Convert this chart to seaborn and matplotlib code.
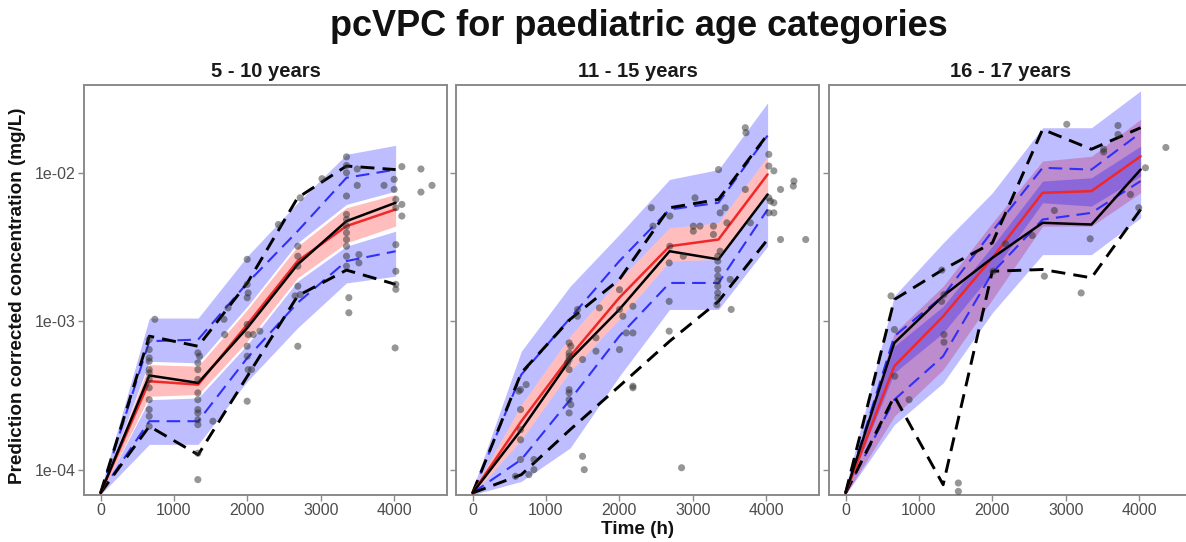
import numpy as np
import pandas as pd
import matplotlib
matplotlib.use("Agg")
import matplotlib.pyplot as plt
import seaborn as sns

# ---------------- data ----------------
TIME_BINS = [0, 665, 1330, 2000, 2685, 3350, 4020]
PANEL_TITLES = ["5 - 10 years", "11 - 15 years", "16 - 17 years"]
Y_TICKS = [1e-4, 1e-3, 1e-2]
Y_TICK_LABELS = ["1e-04", "1e-03", "1e-02"]
X_TICKS = [0, 1000, 2000, 3000, 4000]

# Panel 1: 5 - 10 years
p1_obs_med = [6.96e-5, 4.31e-4, 3.84e-4, 9.02e-4, 2.41e-3, 4.72e-3, 6.28e-3]
p1_sim_med = [6.96e-5, 3.94e-4, 3.74e-4, 9.51e-4, 2.54e-3, 4.37e-3, 5.66e-3]
p1_med_hi = [7.14e-5, 5.10e-4, 4.98e-4, 1.20e-3, 3.20e-3, 5.81e-3, 7.14e-3]
p1_med_lo = [6.78e-5, 3.12e-4, 3.21e-4, 7.33e-4, 1.96e-3, 3.37e-3, 4.37e-3]
p1_up_hi = [7.33e-5, 1.05e-3, 1.05e-3, 2.74e-3, 6.28e-3, 1.33e-2, 1.53e-2]
p1_up_lo = [7.00e-5, 5.37e-4, 5.24e-4, 1.26e-3, 3.37e-3, 6.12e-3, 7.52e-3]
p1_lo_hi = [6.90e-5, 2.96e-4, 3.04e-4, 6.96e-4, 1.86e-3, 3.20e-3, 4.04e-3]
p1_lo_lo = [6.78e-5, 1.48e-4, 1.48e-4, 3.94e-4, 9.02e-4, 1.81e-3, 2.01e-3]
p1_sim_p95 = [6.96e-5, 7.33e-4, 7.52e-4, 1.81e-3, 4.04e-3, 9.25e-3, 1.05e-2]
p1_sim_p05 = [6.96e-5, 2.12e-4, 2.12e-4, 5.66e-4, 1.33e-3, 2.54e-3, 2.96e-3]
p1_obs_p95 = [6.96e-5, 7.93e-4, 6.78e-4, 1.81e-3, 6.78e-3, 1.11e-2, 1.05e-2]
p1_obs_p05 = [6.96e-5, 1.96e-4, 1.26e-4, 4.26e-4, 1.48e-3, 2.21e-3, 1.77e-3]
p1_pts_t = [663, 663, 663, 663, 663, 663, 663, 663, 663, 663, 663, 663, 740,
            1326, 1326, 1326, 1326, 1326, 1326, 1326, 1326, 1326, 1326, 1326, 1326,
            1348, 1531, 1737, 1691, 1682,
            1998, 1998, 1998, 1998, 1998, 1998, 1998, 2011, 2011, 2011, 2080, 2171, 2057,
            2423, 2720, 3017, 2688, 2688, 2688, 2688, 2688, 2651, 2720,
            3351, 3351, 3351, 3351, 3351, 3351, 3351, 3351, 3351, 3351, 3351, 3351,
            3497, 3497, 3520, 3520, 3383, 3383,
            4105, 4105, 4105, 4365, 4365, 4000, 4000, 3862, 4516,
            4023, 4023, 4023, 4023, 4023, 4023, 4013]
p1_pts_c = [7.52e-4, 6.44e-4, 5.66e-4, 5.37e-4, 4.72e-4, 4.49e-4, 4.05e-4, 3.56e-4, 2.96e-4, 2.54e-4, 2.29e-4, 1.96e-4, 1.03e-3,
            6.12e-4, 5.24e-4, 4.72e-4, 4.05e-4, 3.29e-4, 2.96e-4, 2.54e-4, 2.41e-4, 2.17e-4, 2.01e-4, 1.29e-4, 8.57e-5,
            5.81e-4, 2.12e-4, 1.23e-3, 8.13e-4, 1.03e-3,
            2.61e-3, 1.77e-3, 1.44e-3, 9.51e-4, 6.78e-4, 5.81e-4, 2.89e-4, 1.55e-3, 8.13e-4, 4.72e-4, 8.13e-4, 8.57e-4, 4.72e-4,
            4.48e-3, 6.78e-3, 9.12e-3, 3.20e-3, 2.74e-3, 2.35e-3, 1.72e-3, 6.78e-4, 1.48e-3, 1.51e-3,
            1.28e-2, 1.12e-2, 1.00e-2, 6.97e-3, 5.24e-3, 4.84e-3, 4.37e-3, 3.94e-3, 3.55e-3, 3.20e-3, 2.74e-3, 2.35e-3,
            1.06e-2, 8.22e-3, 2.81e-3, 2.47e-3, 1.44e-3, 1.14e-3,
            1.10e-2, 6.12e-3, 5.11e-3, 1.06e-2, 7.41e-3, 9.02e-3, 7.72e-3, 8.22e-3, 8.22e-3,
            6.61e-3, 5.81e-3, 3.28e-3, 2.17e-3, 1.77e-3, 1.64e-3, 6.61e-4]

# Panel 2: 11 - 15 years
p2_obs_med = [6.96e-5, 1.86e-4, 5.52e-4, 1.20e-3, 2.96e-3, 2.61e-3, 7.14e-3]
p2_sim_med = [6.96e-5, 2.12e-4, 5.81e-4, 1.44e-3, 3.20e-3, 3.55e-3, 9.75e-3]
p2_med_hi = [7.14e-5, 2.74e-4, 7.93e-4, 1.91e-3, 4.26e-3, 4.60e-3, 1.29e-2]
p2_med_lo = [6.78e-5, 1.59e-4, 4.60e-4, 1.03e-3, 2.54e-3, 2.61e-3, 7.33e-3]
p2_up_hi = [7.33e-5, 6.28e-4, 1.72e-3, 3.84e-3, 9.02e-3, 1.05e-2, 2.96e-2]
p2_up_lo = [7.14e-5, 2.74e-4, 7.93e-4, 1.91e-3, 4.26e-3, 4.60e-3, 1.29e-2]
p2_lo_hi = [6.78e-5, 1.59e-4, 4.60e-4, 1.03e-3, 2.54e-3, 2.61e-3, 7.33e-3]
p2_lo_lo = [6.78e-5, 8.34e-5, 1.40e-4, 4.26e-4, 1.20e-3, 1.20e-3, 3.20e-3]
p2_sim_p95 = [6.96e-5, 4.37e-4, 1.05e-3, 2.54e-3, 5.66e-3, 6.28e-3, 1.78e-2]
p2_sim_p05 = [6.96e-5, 1.17e-4, 2.96e-4, 7.93e-4, 1.81e-3, 1.81e-3, 5.66e-3]
p2_obs_p95 = [6.96e-5, 4.49e-4, 1.03e-3, 1.91e-3, 5.81e-3, 6.61e-3, 1.81e-2]
p2_obs_p05 = [6.96e-5, 9.25e-5, 1.86e-4, 3.65e-4, 7.33e-4, 1.36e-3, 3.55e-3]
p2_pts_t = [654, 631, 731, 654, 654, 654, 654, 585, 768, 837, 837,
            1316, 1339, 1316, 1316, 1316, 1294, 1316, 1316, 1316, 1316, 1339, 1316,
            1431, 1431, 1499, 1499, 1522, 1682, 1682, 1728,
            2002, 2002, 2048, 2094, 2185, 2185, 2185, 2185, 2002,
            2436, 2459, 2688, 2688, 2679, 2679, 2679, 2848, 2871,
            3031, 3008, 3099, 3008, 3282, 3373, 3442, 3465, 3282, 3373,
            3341, 3341, 3341, 3341, 3341, 3341, 3341, 3341, 3328, 3511, 3524,
            3351, 3716, 3725, 3716,
            4036, 4036, 4105, 4036, 4059, 4105, 4105, 4036, 3785, 4196, 4379, 4370, 4196, 4539]
p2_pts_c = [3.46e-4, 3.38e-4, 3.74e-4, 2.54e-4, 1.86e-4, 1.59e-4, 1.17e-4, 9.02e-5, 9.25e-5, 1.00e-4, 1.17e-4,
            7.14e-4, 6.78e-4, 6.12e-4, 5.81e-4, 5.52e-4, 5.24e-4, 4.72e-4, 3.46e-4, 3.29e-4, 2.96e-4, 2.74e-4, 2.41e-4,
            1.20e-3, 1.08e-3, 5.52e-4, 1.23e-4, 1.00e-4, 6.28e-4, 7.73e-4, 1.23e-3,
            1.63e-3, 1.20e-3, 1.08e-3, 8.34e-4, 1.26e-3, 8.34e-4, 3.65e-4, 3.56e-4, 6.44e-4,
            5.81e-3, 4.37e-3, 5.11e-3, 3.20e-3, 2.47e-3, 1.36e-3, 8.57e-4, 1.03e-4, 2.74e-3,
            6.78e-3, 4.37e-3, 4.37e-3, 4.04e-3, 4.37e-3, 5.37e-3, 5.81e-3, 4.60e-3, 3.84e-3, 2.96e-3,
            2.74e-3, 2.54e-3, 2.23e-3, 2.01e-3, 1.86e-3, 1.72e-3, 1.55e-3, 1.44e-3, 1.29e-3, 1.91e-3, 1.20e-3,
            1.05e-2, 2.01e-2, 1.86e-2, 7.72e-3,
            1.33e-2, 1.11e-2, 1.03e-2, 6.78e-3, 6.44e-3, 6.28e-3, 5.37e-3, 5.37e-3, 4.60e-3, 7.72e-3, 8.79e-3, 8.13e-3, 3.55e-3, 3.55e-3]

# Panel 3: 16 - 17 years
p3_obs_med = [6.96e-5, 7.14e-4, 1.48e-3, 2.67e-3, 4.60e-3, 4.48e-3, 1.05e-2]
p3_sim_med = [6.96e-5, 4.98e-4, 1.08e-3, 2.67e-3, 7.33e-3, 7.52e-3, 1.29e-2]
p3_med_hi = [7.14e-5, 8.34e-4, 1.72e-3, 4.60e-3, 1.20e-2, 1.29e-2, 2.29e-2]
p3_med_lo = [6.78e-5, 2.29e-4, 4.72e-4, 1.40e-3, 4.37e-3, 4.37e-3, 7.33e-3]
p3_up_hi = [7.52e-5, 1.48e-3, 3.37e-3, 7.33e-3, 2.01e-2, 2.01e-2, 3.56e-2]
p3_up_lo = [6.96e-5, 4.49e-4, 8.34e-4, 2.12e-3, 6.28e-3, 5.96e-3, 9.50e-3]
p3_lo_hi = [7.14e-5, 6.78e-4, 1.26e-3, 3.20e-3, 8.79e-3, 9.25e-3, 1.51e-2]
p3_lo_lo = [6.78e-5, 2.01e-4, 3.84e-4, 1.14e-3, 2.81e-3, 2.81e-3, 4.97e-3]
p3_sim_p95 = [6.96e-5, 7.93e-4, 1.48e-3, 4.04e-3, 1.08e-2, 1.05e-2, 1.86e-2]
p3_sim_p05 = [6.96e-5, 2.96e-4, 5.81e-4, 2.12e-3, 4.84e-3, 5.37e-3, 8.79e-3]
p3_obs_p95 = [6.96e-5, 1.40e-3, 2.23e-3, 3.37e-3, 1.96e-2, 1.44e-2, 2.01e-2]
p3_obs_p05 = [6.96e-5, 3.12e-4, 7.92e-5, 2.17e-3, 2.23e-3, 1.96e-3, 5.66e-3]
p3_pts_t = [620, 666, 670, 866, 1313, 1341, 1309, 1341, 1341, 1537, 1537,
            2011, 2180, 2544, 2709, 2845, 3014, 3210, 3333, 3516, 3516,
            3712, 3712, 3881, 3995, 4086, 4364]
p3_pts_c = [1.48e-3, 8.79e-4, 4.26e-4, 2.96e-4, 2.21e-3, 1.51e-3, 1.36e-3, 8.13e-4, 7.22e-4, 8.13e-5, 7.14e-5,
            2.17e-3, 3.32e-3, 3.78e-3, 2.01e-3, 5.57e-3, 2.12e-2, 1.55e-3, 3.59e-3, 1.44e-2, 1.38e-2,
            2.08e-2, 1.81e-2, 7.14e-3, 5.81e-3, 1.08e-2, 1.48e-2]

panels = [
    dict(obs_med=p1_obs_med, sim_med=p1_sim_med, med_hi=p1_med_hi, med_lo=p1_med_lo,
         up_hi=p1_up_hi, up_lo=p1_up_lo, lo_hi=p1_lo_hi, lo_lo=p1_lo_lo,
         sim_p95=p1_sim_p95, sim_p05=p1_sim_p05, obs_p95=p1_obs_p95, obs_p05=p1_obs_p05,
         pts_t=p1_pts_t, pts_c=p1_pts_c),
    dict(obs_med=p2_obs_med, sim_med=p2_sim_med, med_hi=p2_med_hi, med_lo=p2_med_lo,
         up_hi=p2_up_hi, up_lo=p2_up_lo, lo_hi=p2_lo_hi, lo_lo=p2_lo_lo,
         sim_p95=p2_sim_p95, sim_p05=p2_sim_p05, obs_p95=p2_obs_p95, obs_p05=p2_obs_p05,
         pts_t=p2_pts_t, pts_c=p2_pts_c),
    dict(obs_med=p3_obs_med, sim_med=p3_sim_med, med_hi=p3_med_hi, med_lo=p3_med_lo,
         up_hi=p3_up_hi, up_lo=p3_up_lo, lo_hi=p3_lo_hi, lo_lo=p3_lo_lo,
         sim_p95=p3_sim_p95, sim_p05=p3_sim_p05, obs_p95=p3_obs_p95, obs_p05=p3_obs_p05,
         pts_t=p3_pts_t, pts_c=p3_pts_c),
]

# ---------------- style ----------------
sns.set_theme(style="white")
plt.rcParams["font.family"] = ["Liberation Sans", "DejaVu Sans"]

W, H = 1186, 542
fig = plt.figure(figsize=(W / 100, H / 100), dpi=100)

BLUE_BAND = "#0000FF"
RED_BAND = "#FF0000"
BAND_ALPHA = 0.26
SPINE = "#8A8A8A"
TICK_TXT = "#4D4D4D"

lefts = [84, 456, 829]
ax_w, ax_top, ax_bot = 363, 85, 495

for i, (p, title) in enumerate(zip(panels, PANEL_TITLES)):
    ax = fig.add_axes([lefts[i] / W, 1 - ax_bot / H, ax_w / W, (ax_bot - ax_top) / H])
    ax.set_yscale("log")

    # median-CI band (red) underneath, percentile-CI bands (blue) on top
    ax.fill_between(TIME_BINS, p["med_lo"], p["med_hi"], color=RED_BAND, alpha=BAND_ALPHA, lw=0, zorder=1)
    ax.fill_between(TIME_BINS, p["up_lo"], p["up_hi"], color=BLUE_BAND, alpha=BAND_ALPHA, lw=0, zorder=2)
    ax.fill_between(TIME_BINS, p["lo_lo"], p["lo_hi"], color=BLUE_BAND, alpha=BAND_ALPHA, lw=0, zorder=2)

    # simulated percentiles (blue dashed)
    for key in ("sim_p95", "sim_p05"):
        sns.lineplot(x=TIME_BINS, y=p[key], ax=ax, color="#3030F8", lw=1.5,
                     linestyle=(0, (6.5, 3.5)), estimator=None, sort=False, zorder=3)
    # observed percentiles (black dashed)
    for key in ("obs_p95", "obs_p05"):
        sns.lineplot(x=TIME_BINS, y=p[key], ax=ax, color="black", lw=2.1,
                     linestyle=(0, (4.8, 2.8)), estimator=None, sort=False, zorder=4)
    # simulated median (red) and observed median (black)
    sns.lineplot(x=TIME_BINS, y=p["sim_med"], ax=ax, color="#F02828", lw=1.8,
                 estimator=None, sort=False, zorder=5)
    sns.lineplot(x=TIME_BINS, y=p["obs_med"], ax=ax, color="black", lw=1.8,
                 estimator=None, sort=False, zorder=6)

    # observations
    sns.scatterplot(x=p["pts_t"], y=p["pts_c"], ax=ax, color="#2E2E2E", alpha=0.5,
                    s=26, edgecolor="none", zorder=7)

    ax.set_xlim(-225, 4720)
    ax.set_ylim(6.75e-5, 0.039)
    ax.set_xticks(X_TICKS)
    ax.set_xticklabels([str(t) for t in X_TICKS])
    ax.set_yticks(Y_TICKS)
    ax.minorticks_off()
    if i == 0:
        ax.set_yticklabels(Y_TICK_LABELS)
    else:
        ax.set_yticklabels([])
    ax.tick_params(axis="both", which="major", direction="out", length=4, width=1,
                   color=SPINE, labelcolor=TICK_TXT, labelsize=11.5, pad=2,
                   bottom=True, left=True)
    for s in ax.spines.values():
        s.set_color(SPINE)
        s.set_linewidth(1.4)
    ax.grid(False)
    ax.set_xlabel("")
    ax.set_ylabel("")
    ax.set_title(title, fontsize=14.5, fontweight="bold", pad=5.5, color="#1A1A1A")

fig.text(639 / W, 1 - 26 / H, "pcVPC for paediatric age categories",
         ha="center", va="center", fontsize=26, fontweight="bold", color="#111111")
fig.text(18 / W, 1 - 296 / H, "Prediction corrected concentration (mg/L)",
         ha="center", va="center", rotation=90, fontsize=13.6, fontweight="bold", color="#111111")
fig.text(638 / W, 1 - 529 / H, "Time (h)", ha="center", va="center",
         fontsize=13.6, fontweight="bold", color="#111111")

fig.savefig("out.png", dpi=100)
